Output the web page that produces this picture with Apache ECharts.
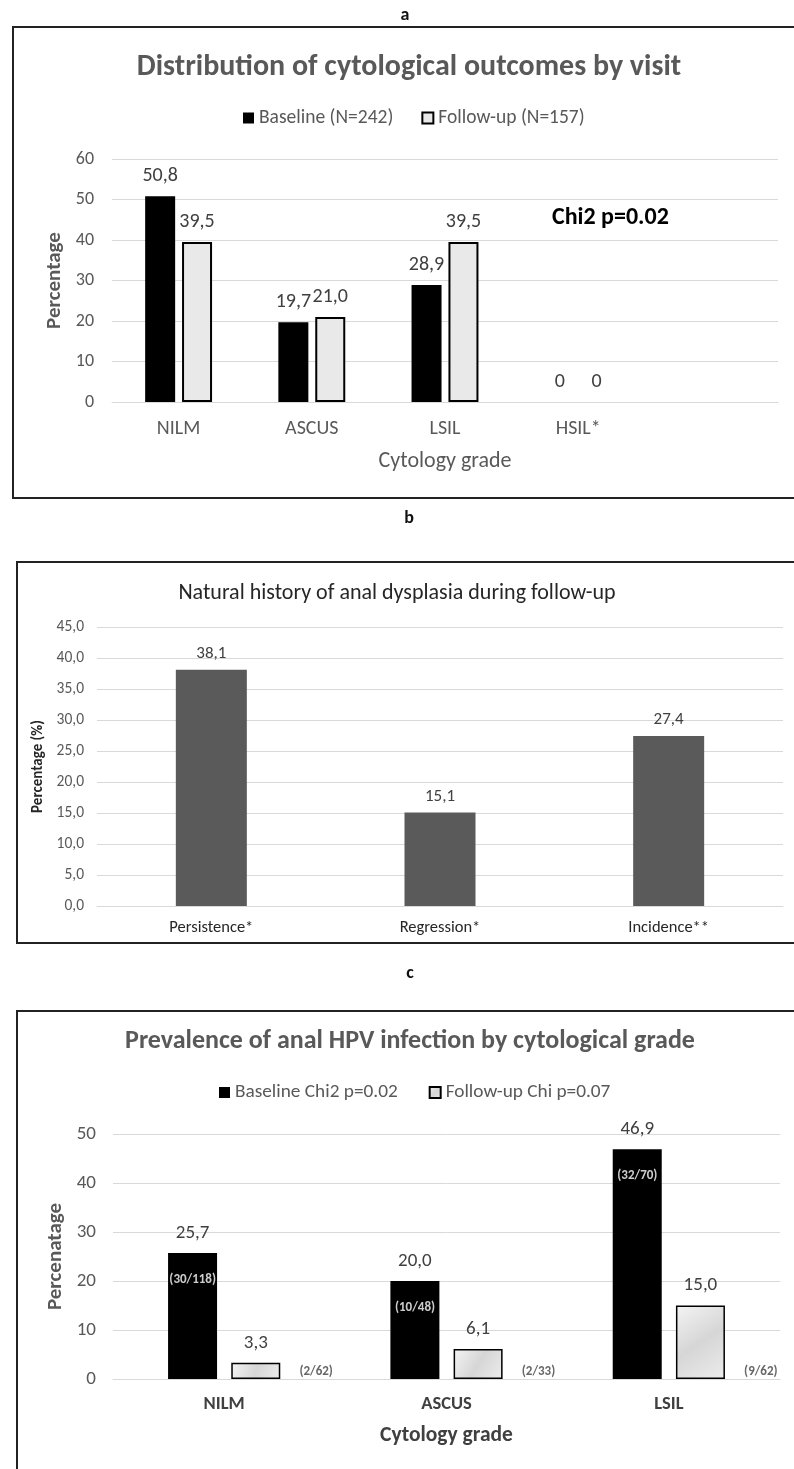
<!DOCTYPE html>
<html>
<head>
<meta charset="utf-8">
<script src="https://cdn.jsdelivr.net/npm/echarts@6/dist/echarts.min.js"></script>
<style>
  html, body { margin: 0; padding: 0; background: #fff; }
  #chart { width: 794px; height: 1469px; }
</style>
</head>
<body>
<div id="chart"></div>
<script>
// a: cytological outcomes by visit
const cytoGrades = ['NILM', 'ASCUS', 'LSIL', 'HSIL*'];
const cytoBaseline = [50.8, 19.7, 28.9, 0];
const cytoFollowUp = [39.5, 21.0, 39.5, 0];

// b: natural history during follow-up
const historyGroups = ['Persistence*', 'Regression*', 'Incidence**'];
const historyValues = [38.1, 15.1, 27.4];

// c: anal HPV prevalence by cytological grade
const hpvGrades = ['NILM', 'ASCUS', 'LSIL'];
const hpvBaseline = [25.7, 20.0, 46.9];
const hpvFollowUp = [3.3, 6.1, 15.0];
const hpvBaselineCounts = ['(30/118)', '(10/48)', '(32/70)'];
const hpvFollowUpCounts = ['(2/62)', '(2/33)', '(9/62)'];

const FONT = 'Carlito, Lato, sans-serif';
const GRAY = '#595959';
const DARK = '#404040';
const GRID_LINE = '#d9d9d9';

const comma = (v) => (v === 0 ? '0' : v.toFixed(1).replace('.', ','));

// no border on empty bars, otherwise a line shows on the baseline
const noEmptyBorder = (values) => values.map((v) => (v === 0 ? { value: v, itemStyle: { borderWidth: 0 } } : v));

const chart = echarts.init(document.getElementById('chart'));

const panelTitle = (text, x, y, size, bold, color) => ({
  text,
  left: x,
  top: y,
  textAlign: 'center',
  padding: 0,
  textStyle: { fontFamily: FONT, fontSize: size, fontWeight: bold ? 'bold' : 'normal', color },
});

const valueLabel = (size, distance) => ({
  show: true,
  position: 'top',
  distance,
  fontFamily: FONT,
  fontSize: size,
  color: DARK,
  formatter: (p) => comma(p.value),
});

const box = (x, y, w, h, width) => ({
  type: 'rect',
  shape: { x, y, width: w, height: h },
  style: { fill: 'none', stroke: '#222', lineWidth: width },
  silent: true,
});

const letter = (text, x, y) => ({
  type: 'text',
  x,
  y,
  style: { text, font: 'bold 18px ' + FONT, fill: '#111', textAlign: 'center', textVerticalAlign: 'middle' },
  silent: true,
});

chart.setOption({
  animation: false,
  textStyle: { fontFamily: FONT },
  title: [
    panelTitle('Distribution of cytological outcomes by visit', 409, 52, 30, true, GRAY),
    panelTitle('Natural history of anal dysplasia during follow-up', 397, 582, 22, false, '#262626'),
    panelTitle('Prevalence of anal HPV infection by cytological grade', 410, 1028, 26, true, GRAY),
  ],
  legend: [
    {
      data: ['Baseline (N=242)', 'Follow-up (N=157)'],
      left: 243,
      top: 108,
      padding: 0,
      itemWidth: 11,
      itemHeight: 11,
      itemGap: 28,
      icon: 'rect',
      textStyle: { fontFamily: FONT, fontSize: 19.5, color: GRAY },
    },
    {
      data: ['Baseline Chi2 p=0.02', 'Follow-up Chi p=0.07'],
      left: 219,
      top: 1083,
      padding: 0,
      itemWidth: 11,
      itemHeight: 11,
      itemGap: 31,
      icon: 'rect',
      textStyle: { fontFamily: FONT, fontSize: 19.3, color: GRAY },
    },
  ],
  grid: [
    { left: 112, right: 16, top: 159, height: 243, outerBoundsMode: 'none' },
    { left: 97, right: 11, top: 627, height: 279, outerBoundsMode: 'none' },
    { left: 113, right: 14, top: 1134, height: 245, outerBoundsMode: 'none' },
  ],
  xAxis: [
    {
      gridIndex: 0,
      type: 'category',
      data: cytoGrades.concat(['']),
      axisTick: { show: false },
      axisLine: { lineStyle: { color: GRID_LINE } },
      axisLabel: { fontSize: 20, color: GRAY, margin: 17 },
      name: 'Cytology grade',
      nameLocation: 'middle',
      nameGap: 48,
      nameTextStyle: { fontSize: 22, color: GRAY },
    },
    {
      gridIndex: 1,
      type: 'category',
      data: historyGroups,
      axisTick: { show: false },
      axisLine: { lineStyle: { color: GRID_LINE } },
      axisLabel: { fontSize: 16.5, color: '#262626', margin: 13 },
    },
    {
      gridIndex: 2,
      type: 'category',
      data: hpvGrades,
      axisTick: { show: false },
      axisLine: { lineStyle: { color: GRID_LINE } },
      axisLabel: { fontSize: 18.5, fontWeight: 'bold', color: DARK, margin: 16 },
      name: 'Cytology grade',
      nameLocation: 'middle',
      nameGap: 46,
      nameTextStyle: { fontSize: 21.5, fontWeight: 'bold', color: DARK },
    },
  ],
  yAxis: [
    {
      gridIndex: 0,
      type: 'value',
      min: 0,
      max: 60,
      interval: 10,
      axisLabel: { fontSize: 18, color: GRAY, margin: 18 },
      splitLine: { lineStyle: { color: GRID_LINE } },
      name: 'Percentage',
      nameLocation: 'middle',
      nameGap: 46,
      nameTextStyle: { fontSize: 21, fontWeight: 'bold', color: GRAY },
    },
    {
      gridIndex: 1,
      type: 'value',
      min: 0,
      max: 45,
      interval: 5,
      axisLabel: { fontSize: 15.5, color: GRAY, margin: 13, formatter: (v) => v.toFixed(1).replace('.', ',') },
      splitLine: { lineStyle: { color: GRID_LINE } },
      name: 'Percentage (%)',
      nameLocation: 'middle',
      nameGap: 50,
      nameTextStyle: { fontSize: 15, fontWeight: 'bold', color: '#262626' },
    },
    {
      gridIndex: 2,
      type: 'value',
      min: 0,
      max: 50,
      interval: 10,
      axisLabel: { fontSize: 19, color: GRAY, margin: 17 },
      splitLine: { lineStyle: { color: GRID_LINE } },
      name: 'Percenatage',
      nameLocation: 'middle',
      nameGap: 45,
      nameTextStyle: { fontSize: 21, fontWeight: 'bold', color: GRAY },
    },
  ],
  series: [
    {
      name: 'Baseline (N=242)',
      type: 'bar',
      xAxisIndex: 0,
      yAxisIndex: 0,
      data: cytoBaseline,
      barWidth: 30,
      barGap: '23%',
      itemStyle: { color: '#000' },
      label: valueLabel(20, 10),
    },
    {
      name: 'Follow-up (N=157)',
      type: 'bar',
      xAxisIndex: 0,
      yAxisIndex: 0,
      data: noEmptyBorder(cytoFollowUp),
      barWidth: 30,
      barGap: '23%',
      itemStyle: { color: '#e9e9e9', borderColor: '#000', borderWidth: 2 },
      label: valueLabel(20, 10),
    },
    {
      name: 'Natural history',
      type: 'bar',
      xAxisIndex: 1,
      yAxisIndex: 1,
      data: historyValues,
      barWidth: 71,
      itemStyle: { color: '#5a5a5a' },
      label: valueLabel(17, 7.5),
    },
    {
      name: 'Baseline Chi2 p=0.02',
      type: 'bar',
      xAxisIndex: 2,
      yAxisIndex: 2,
      data: hpvBaseline,
      barWidth: 49,
      barGap: '29%',
      itemStyle: { color: '#000' },
      label: valueLabel(19, 10.5),
    },
    {
      name: 'Follow-up Chi p=0.07',
      type: 'bar',
      xAxisIndex: 2,
      yAxisIndex: 2,
      data: hpvFollowUp,
      barWidth: 49,
      barGap: '29%',
      itemStyle: {
        color: new echarts.graphic.LinearGradient(0, 0, 1, 1, [
          { offset: 0, color: '#f4f4f4' },
          { offset: 0.5, color: '#d6d6d6' },
          { offset: 1, color: '#ececec' },
        ]),
        borderColor: '#000',
        borderWidth: 1.5,
      },
      label: valueLabel(19, 10.5),
    },
    {
      // counts written inside the baseline bars
      type: 'scatter',
      xAxisIndex: 2,
      yAxisIndex: 2,
      data: hpvBaseline,
      symbolSize: 1,
      itemStyle: { color: 'transparent' },
      silent: true,
      z: 5,
      label: {
        show: true,
        position: 'inside',
        offset: [-31.5, 27],
        fontFamily: FONT,
        fontSize: 13,
        fontWeight: 'bold',
        color: '#fff',
        formatter: (p) => hpvBaselineCounts[p.dataIndex],
      },
    },
    {
      // counts written beside the follow-up bars
      type: 'scatter',
      xAxisIndex: 2,
      yAxisIndex: 2,
      data: hpvFollowUp.map(() => 0),
      symbolSize: 1,
      itemStyle: { color: 'transparent' },
      silent: true,
      z: 5,
      label: {
        show: true,
        position: 'inside',
        offset: [92, -7],
        fontFamily: FONT,
        fontSize: 13,
        fontWeight: 'bold',
        color: DARK,
        formatter: (p) => hpvFollowUpCounts[p.dataIndex],
      },
    },
  ],
  graphic: [
    box(13, 27, 800, 471, 2),
    box(17, 562, 800, 381, 2),
    box(17, 1011, 800, 500, 2),
    letter('a', 405, 15),
    letter('b', 409, 518),
    letter('c', 410, 973),
    {
      type: 'text',
      x: 552,
      y: 218,
      style: { text: 'Chi2 p=0.02', font: 'bold 24px ' + FONT, fill: '#000', textVerticalAlign: 'middle' },
      silent: true,
    },
  ],
});
</script>
</body>
</html>
